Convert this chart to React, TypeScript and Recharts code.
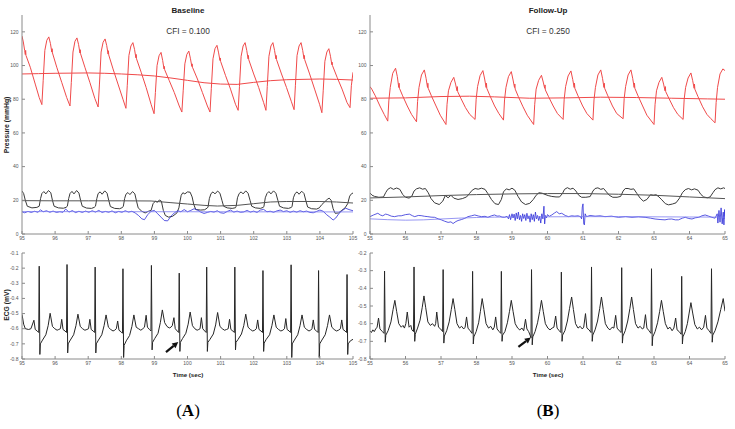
import React from "react";
import { LineChart, Line, XAxis, YAxis, ReferenceLine } from "recharts";

// ---- data: [time (s), value] pairs ----

// Baseline, arterial pressure (mmHg)
const baseArterial: [number, number][] = [
  [95.0, 117.5], [95.04, 114], [95.08, 109], [95.1, 106.5], [95.11, 109], [95.12, 106], [95.25, 99], [95.4, 89], [95.52, 81], [95.6, 76.8],
  [95.64, 91], [95.69, 109], [95.75, 115], [95.81, 117], [95.86, 113], [95.9, 108], [95.91, 110], [95.92, 107.5], [96.05, 99], [96.2, 90], [96.35, 81], [96.45, 76],
  [96.49, 90], [96.54, 108], [96.6, 114.4], [96.66, 116.4], [96.71, 112.4], [96.75, 107.4], [96.76, 109.4], [96.77, 107], [96.9, 99], [97.05, 90], [97.2, 80.5], [97.3, 75.4],
  [97.34, 89], [97.39, 108], [97.45, 113.8], [97.51, 115.8], [97.56, 111.8], [97.6, 106.8], [97.61, 108.8], [97.62, 106.3], [97.75, 98], [97.9, 89], [98.05, 80], [98.14, 74.6],
  [98.18, 88], [98.23, 106], [98.29, 111.6], [98.35, 113.6], [98.4, 109.6], [98.44, 104.6], [98.45, 106.6], [98.46, 104], [98.6, 96], [98.75, 87], [98.9, 77], [98.99, 71.4],
  [99.03, 84], [99.08, 100], [99.14, 105.8], [99.2, 107.8], [99.25, 103], [99.29, 98], [99.3, 99.5], [99.31, 97.5], [99.45, 91], [99.6, 84], [99.75, 76], [99.83, 72.4],
  [99.87, 85], [99.92, 101], [99.98, 106.6], [100.04, 108.6], [100.09, 104], [100.13, 99.5], [100.14, 101], [100.15, 99], [100.3, 92], [100.45, 84], [100.6, 76], [100.68, 72.4],
  [100.72, 86.5], [100.77, 104], [100.83, 110], [100.89, 112], [100.94, 107.5], [100.98, 103], [100.99, 104.5], [101.0, 102.5], [101.15, 94], [101.3, 86], [101.45, 77], [101.53, 73.4],
  [101.57, 87.5], [101.62, 105.5], [101.68, 111.6], [101.74, 113.6], [101.79, 109], [101.83, 104], [101.84, 106], [101.85, 103.5], [102.0, 95], [102.15, 87], [102.3, 78], [102.37, 73.4],
  [102.41, 87.5], [102.46, 105.5], [102.52, 111.6], [102.58, 113.6], [102.63, 109], [102.67, 104], [102.68, 106], [102.69, 103.5], [102.84, 95], [102.99, 87], [103.14, 78.5], [103.22, 73.8],
  [103.26, 88], [103.31, 106], [103.37, 111.6], [103.43, 113.6], [103.48, 109], [103.52, 104], [103.53, 106], [103.54, 103.5], [103.69, 95], [103.84, 86], [103.99, 77], [104.06, 72],
  [104.1, 85], [104.15, 102.5], [104.21, 108], [104.27, 110], [104.32, 105.5], [104.36, 100.5], [104.37, 102], [104.38, 100], [104.52, 93], [104.67, 86], [104.82, 78], [104.91, 75],
  [104.95, 88], [105.0, 96],
];
const baseArterialMean: [number, number][] = [
  [95, 95], [95.5, 95.2], [96, 95.4], [96.5, 95.5], [97, 95.6], [97.5, 95.4], [98, 95], [98.5, 94.5], [99, 93.8], [99.5, 92.6],
  [100, 91.2], [100.5, 89.8], [101, 89], [101.5, 88.8], [102, 90], [102.5, 91], [103, 91.6], [104, 92], [104.5, 91.8], [105, 91.4],
];
const baseVenous: [number, number][] = [
  [95.0, 25.5], [95.05, 24], [95.1, 20], [95.16, 16.5], [95.3, 15.5], [95.45, 15.8],
  [95.52, 16.5], [95.56, 21], [95.6, 24], [95.66, 25.2], [95.72, 23.8], [95.8, 25.8], [95.87, 24.5], [95.92, 20], [95.97, 16.5], [96.1, 15.5], [96.25, 15.3], [96.33, 15.8],
  [96.37, 16.5], [96.41, 21], [96.45, 24], [96.51, 25.3], [96.57, 23.8], [96.65, 25.8], [96.72, 24.3], [96.77, 20], [96.82, 16.5], [96.95, 15.4], [97.1, 15.2], [97.18, 15.8],
  [97.22, 16.5], [97.26, 21], [97.3, 24], [97.36, 25], [97.42, 23.6], [97.5, 25.6], [97.57, 24.2], [97.62, 20], [97.67, 16.3], [97.8, 15.2], [97.95, 15], [98.02, 15.6],
  [98.06, 16.3], [98.1, 21], [98.14, 23.6], [98.2, 24.6], [98.26, 23.4], [98.34, 25.2], [98.41, 23.8], [98.46, 19.5], [98.51, 15.5], [98.62, 13.5], [98.72, 12.5], [98.82, 13.5],
  [98.9, 14], [98.96, 18], [99.03, 19.5], [99.09, 18.8], [99.15, 20.2], [99.21, 19.5], [99.27, 14], [99.33, 11], [99.43, 10], [99.55, 10.5], [99.68, 12.5], [99.74, 15.5],
  [99.77, 19], [99.81, 23], [99.86, 24.5], [99.92, 23.8], [100.0, 25], [100.08, 24.8], [100.14, 22], [100.19, 17.5], [100.25, 14.5], [100.4, 14.2], [100.52, 14.4], [100.6, 15.5],
  [100.62, 16], [100.66, 21], [100.71, 24], [100.77, 25], [100.83, 23.8], [100.91, 25.5], [100.98, 24.2], [101.04, 20], [101.09, 16.5], [101.2, 15.5], [101.35, 15.2], [101.45, 15.6],
  [101.47, 16.5], [101.51, 21.5], [101.56, 24], [101.62, 25], [101.68, 23.8], [101.76, 25.6], [101.83, 24.2], [101.89, 20], [101.94, 16.5], [102.05, 15.5], [102.2, 15.2], [102.29, 15.8],
  [102.31, 16.5], [102.35, 21.5], [102.4, 24], [102.46, 25.2], [102.52, 23.8], [102.6, 25.6], [102.67, 24.2], [102.73, 20], [102.78, 16.5], [102.9, 15.5], [103.05, 15.2], [103.14, 15.8],
  [103.16, 16.5], [103.2, 21.5], [103.25, 24], [103.31, 25], [103.37, 23.6], [103.45, 25.4], [103.52, 24], [103.58, 19.5], [103.63, 16], [103.75, 15], [103.9, 14.8], [103.98, 15.5],
  [104.0, 16], [104.06, 17.5], [104.14, 19], [104.22, 20.5], [104.28, 21.3], [104.34, 20], [104.4, 15], [104.46, 12.3], [104.56, 12.5], [104.66, 14], [104.76, 15.5],
  [104.84, 18], [104.9, 22.5], [104.96, 24], [105.0, 24.3],
];
const baseVenousMean: [number, number][] = [
  [95, 19.8], [96, 19.7], [97, 19.7], [98, 19.7], [98.9, 19.6], [99.5, 18.6], [100, 17.8], [100.5, 17.0], [100.9, 16.6],
  [101.5, 17.0], [102, 18.0], [102.5, 19.0], [103, 19.3], [104, 19.3], [104.5, 19.0], [105, 18.4],
];
const baseBlue: [number, number][] = [
  [95.0, 13.2], [95.08, 12.6], [95.18, 13.4], [95.28, 12.8], [95.38, 13.5], [95.48, 12.9], [95.56, 14.3], [95.64, 13.2], [95.74, 13.8], [95.84, 12.9],
  [95.94, 13.6], [96.04, 12.8], [96.14, 13.2], [96.24, 12.9], [96.32, 14.8], [96.42, 13.0], [96.52, 13.9], [96.62, 12.7], [96.72, 13.5], [96.82, 12.8],
  [96.92, 13.6], [97.02, 12.9], [97.12, 13.8], [97.22, 13.0], [97.32, 14.0], [97.42, 12.8], [97.52, 13.4], [97.62, 12.9], [97.72, 13.7], [97.82, 12.6],
  [97.92, 13.4], [98.02, 12.9], [98.12, 13.8], [98.22, 13.0], [98.32, 13.5], [98.42, 12.5], [98.52, 11.0], [98.62, 9.0], [98.7, 8.5], [98.8, 11.5],
  [98.9, 13.5], [99.0, 14.0], [99.1, 12.0], [99.2, 10.0], [99.3, 8.0], [99.4, 7.8], [99.5, 10.5], [99.6, 12.5], [99.7, 13.8], [99.8, 13.2],
  [99.9, 14.5], [100.0, 13.2], [100.1, 14.0], [100.2, 15.0], [100.3, 14.2], [100.4, 13.0], [100.5, 12.2], [100.6, 12.8], [100.7, 13.4], [100.8, 13.0],
  [100.9, 13.8], [101.0, 12.6], [101.1, 12.3], [101.2, 13.4], [101.3, 14.2], [101.4, 13.0], [101.5, 13.6], [101.6, 12.9], [101.7, 13.1], [101.8, 14.0],
  [101.9, 13.0], [102.0, 13.6], [102.1, 12.8], [102.2, 14.2], [102.3, 14.6], [102.4, 13.2], [102.5, 13.5], [102.6, 12.9], [102.7, 13.7], [102.8, 14.2],
  [102.9, 13.3], [103.0, 13.8], [103.1, 12.9], [103.2, 13.6], [103.3, 13.0], [103.4, 13.8], [103.5, 13.2], [103.6, 13.6], [103.7, 12.8], [103.8, 12.6],
  [103.9, 13.4], [104.0, 14.2], [104.1, 13.5], [104.2, 11.5], [104.3, 10.0], [104.4, 8.3], [104.48, 9.5], [104.58, 12.3], [104.68, 14.0], [104.78, 15.3],
  [104.88, 14.5], [105.0, 13.8],
];
const baseBlueMean: [number, number][] = [[95, 13.3], [100, 13.2], [105, 13.1]];

// Baseline ECG (mV)
const baseEcg: [number, number][] = [
  [95.0, -0.505], [95.05, -0.57], [95.1, -0.6], [95.2, -0.605], [95.27, -0.6],
  [95.36, -0.544], [95.4, -0.605], [95.46, -0.615], [95.505, -0.625], [95.52, -0.187], [95.54, -0.77], [95.555, -0.7], [95.62, -0.675], [95.72, -0.64], [95.79, -0.58], [95.85, -0.498], [95.92, -0.585], [95.99, -0.6], [96.06, -0.61], [96.11, -0.605], [96.16, -0.6],
  [96.2, -0.538], [96.24, -0.605], [96.3, -0.615], [96.345, -0.625], [96.36, -0.176], [96.38, -0.76], [96.395, -0.7], [96.46, -0.675], [96.56, -0.64], [96.63, -0.58], [96.69, -0.504], [96.76, -0.585], [96.83, -0.6], [96.9, -0.61], [96.96, -0.605], [97.01, -0.6],
  [97.05, -0.538], [97.09, -0.605], [97.15, -0.615], [97.195, -0.625], [97.21, -0.193], [97.23, -0.76], [97.245, -0.7], [97.31, -0.675], [97.41, -0.64], [97.48, -0.58], [97.54, -0.509], [97.61, -0.59], [97.68, -0.605], [97.75, -0.615], [97.8, -0.61], [97.85, -0.6],
  [97.89, -0.549], [97.93, -0.61], [97.99, -0.62], [98.035, -0.63], [98.05, -0.204], [98.07, -0.79], [98.085, -0.71], [98.15, -0.68], [98.25, -0.645], [98.32, -0.585], [98.38, -0.509], [98.45, -0.59], [98.52, -0.6], [98.59, -0.61], [98.65, -0.6], [98.7, -0.59],
  [98.75, -0.511], [98.79, -0.59], [98.85, -0.605], [98.895, -0.615], [98.91, -0.182], [98.93, -0.74], [98.945, -0.69], [99.01, -0.665], [99.11, -0.63], [99.18, -0.56], [99.24, -0.476], [99.31, -0.56], [99.38, -0.585], [99.45, -0.595], [99.5, -0.59], [99.54, -0.58],
  [99.59, -0.527], [99.63, -0.6], [99.69, -0.615], [99.735, -0.625], [99.75, -0.233], [99.77, -0.75], [99.785, -0.69], [99.85, -0.665], [99.95, -0.63], [100.02, -0.57], [100.08, -0.49], [100.15, -0.58], [100.22, -0.6], [100.29, -0.61], [100.34, -0.605], [100.38, -0.6],
  [100.42, -0.527], [100.46, -0.6], [100.52, -0.615], [100.565, -0.625], [100.58, -0.193], [100.6, -0.75], [100.615, -0.69], [100.68, -0.67], [100.78, -0.635], [100.85, -0.575], [100.91, -0.493], [100.98, -0.585], [101.05, -0.6], [101.12, -0.61], [101.18, -0.605], [101.23, -0.6],
  [101.27, -0.538], [101.31, -0.605], [101.37, -0.615], [101.415, -0.625], [101.43, -0.193], [101.45, -0.74], [101.465, -0.69], [101.53, -0.67], [101.63, -0.635], [101.7, -0.58], [101.76, -0.504], [101.83, -0.59], [101.9, -0.605], [101.97, -0.615], [102.03, -0.61], [102.08, -0.6],
  [102.12, -0.542], [102.16, -0.605], [102.22, -0.615], [102.265, -0.625], [102.28, -0.216], [102.3, -0.75], [102.315, -0.695], [102.38, -0.67], [102.48, -0.64], [102.55, -0.58], [102.61, -0.509], [102.68, -0.59], [102.75, -0.605], [102.82, -0.615], [102.88, -0.61], [102.93, -0.6],
  [102.97, -0.533], [103.01, -0.605], [103.07, -0.615], [103.115, -0.625], [103.13, -0.178], [103.15, -0.79], [103.165, -0.7], [103.23, -0.675], [103.33, -0.64], [103.4, -0.58], [103.46, -0.509], [103.53, -0.59], [103.6, -0.605], [103.67, -0.615], [103.72, -0.61], [103.76, -0.6],
  [103.8, -0.542], [103.84, -0.605], [103.9, -0.615], [103.945, -0.625], [103.96, -0.216], [103.98, -0.79], [103.995, -0.7], [104.06, -0.675], [104.16, -0.64], [104.23, -0.58], [104.29, -0.509], [104.36, -0.59], [104.43, -0.605], [104.5, -0.615], [104.56, -0.61], [104.62, -0.6],
  [104.66, -0.542], [104.7, -0.605], [104.76, -0.615], [104.805, -0.625], [104.82, -0.242], [104.84, -0.77], [104.855, -0.7], [104.92, -0.68], [105.0, -0.67],
];

// Follow-up, arterial pressure (mmHg)
const fuArterial: [number, number][] = [
  [55.0, 87.5], [55.05, 86], [55.15, 82], [55.28, 76], [55.4, 71], [55.5, 67],
  [55.53, 79], [55.57, 87], [55.64, 95.4], [55.72, 98.4], [55.77, 93.4], [55.81, 87], [55.82, 89.5], [55.83, 86.5], [55.92, 82], [56.05, 76], [56.17, 71], [56.31, 66.6],
  [56.34, 78.6], [56.38, 87], [56.45, 94.4], [56.53, 97.4], [56.58, 92.4], [56.62, 87], [56.63, 89.5], [56.64, 86.5], [56.73, 82], [56.86, 76], [56.98, 70.5], [57.14, 65],
  [57.17, 77], [57.21, 85], [57.28, 90], [57.36, 93], [57.41, 89], [57.45, 85], [57.46, 87.5], [57.47, 84.5], [57.56, 80.5], [57.69, 75], [57.81, 71], [57.96, 68],
  [57.99, 80], [58.03, 87.5], [58.1, 94], [58.18, 97], [58.23, 92], [58.27, 87], [58.28, 89.5], [58.29, 86.5], [58.38, 82], [58.51, 76], [58.63, 71.5], [58.76, 67.6],
  [58.79, 79.6], [58.83, 87], [58.9, 93.4], [58.98, 96.4], [59.03, 91.4], [59.07, 87], [59.08, 89], [59.09, 86], [59.18, 81.5], [59.31, 75.5], [59.43, 70.5], [59.61, 65],
  [59.64, 77], [59.68, 86], [59.75, 91.2], [59.83, 94.2], [59.88, 90.2], [59.92, 86.5], [59.93, 88.5], [59.94, 85.5], [60.03, 81.5], [60.16, 76], [60.28, 71.5], [60.44, 68],
  [60.47, 80], [60.51, 87.5], [60.58, 93.8], [60.66, 96.8], [60.71, 91.8], [60.75, 87], [60.76, 89.5], [60.77, 86.5], [60.86, 82], [60.99, 76], [61.11, 71.5], [61.28, 67.6],
  [61.31, 79.6], [61.35, 87], [61.42, 94.4], [61.5, 97.4], [61.55, 92.4], [61.59, 87], [61.6, 89.5], [61.61, 86.5], [61.7, 82], [61.83, 76], [61.95, 71.5], [62.13, 68.4],
  [62.16, 80.4], [62.2, 87.5], [62.27, 94.4], [62.35, 97.4], [62.4, 92.4], [62.44, 87], [62.45, 89.5], [62.46, 86.5], [62.55, 82], [62.68, 76], [62.8, 70.5], [63.0, 65],
  [63.03, 77], [63.07, 85], [63.14, 90], [63.22, 93], [63.27, 89], [63.31, 85], [63.32, 87.5], [63.33, 84.5], [63.42, 80.5], [63.55, 75], [63.67, 71], [63.82, 68],
  [63.85, 80], [63.89, 87], [63.96, 92.6], [64.04, 95.6], [64.09, 91], [64.13, 86.5], [64.14, 89], [64.15, 86], [64.24, 81.5], [64.37, 75.5], [64.49, 71], [64.6, 68.5], [64.72, 66],
  [64.75, 78], [64.79, 87], [64.86, 95], [64.94, 98], [65.0, 97],
];
const fuArterialMean: [number, number][] = [
  [55, 80.6], [56, 80.8], [57, 81.6], [57.8, 81.8], [58.5, 81.4], [59.5, 80.6], [60.5, 80.8], [61.5, 81.2], [62.5, 81.0], [63.5, 80.6], [64.5, 80.2], [65, 80.0],
];
const fuVenous: [number, number][] = [
  [55.0, 24.3], [55.06, 23.0], [55.13, 22.3], [55.25, 21.8], [55.38, 22.0], [55.44, 24.5], [55.5, 26.5], [55.58, 27.5], [55.66, 26.5], [55.75, 27.3], [55.84, 26.5], [55.92, 23.5],
  [56.0, 21.8], [56.1, 21.3], [56.18, 22.5], [56.24, 25.5], [56.31, 26.8], [56.4, 27.4], [56.48, 26.6], [56.56, 27.0], [56.64, 24.5], [56.72, 21.0], [56.82, 18.5], [56.95, 17.5],
  [57.05, 19.5], [57.12, 22.8], [57.2, 21.5], [57.28, 23.0], [57.36, 21.3], [57.48, 20.5], [57.6, 21.0], [57.72, 22.0], [57.8, 24.0], [57.88, 26.0], [57.96, 27.0], [58.05, 26.6],
  [58.14, 27.2], [58.24, 26.5], [58.32, 24.0], [58.42, 20.5], [58.52, 18.0], [58.62, 17.5], [58.7, 20.5], [58.76, 25.0], [58.84, 26.8], [58.92, 26.2], [59.0, 27.2], [59.08, 26.0],
  [59.17, 22.3], [59.27, 19.0], [59.38, 17.5], [59.5, 18.2], [59.6, 20.5], [59.68, 23.0], [59.76, 24.5], [59.85, 24.2], [59.93, 23.5], [60.02, 22.8], [60.12, 22.3], [60.24, 22.0],
  [60.34, 22.0], [60.42, 24.0], [60.48, 26.5], [60.56, 27.5], [60.64, 26.6], [60.72, 27.2], [60.8, 25.5], [60.88, 23.0], [60.96, 21.8], [61.08, 21.8], [61.2, 22.2], [61.28, 25.5],
  [61.34, 27.0], [61.42, 27.4], [61.5, 26.5], [61.58, 27.0], [61.66, 25.0], [61.74, 23.0], [61.84, 21.8], [61.96, 21.8], [62.06, 22.3], [62.13, 25.5], [62.19, 27.0], [62.27, 27.0],
  [62.35, 26.5], [62.43, 26.8], [62.52, 24.0], [62.61, 21.3], [62.7, 19.5], [62.8, 20.5], [62.9, 23.3], [62.98, 23.0], [63.06, 23.3], [63.14, 22.0], [63.22, 20.3], [63.32, 18.0],
  [63.41, 17.3], [63.52, 17.8], [63.62, 18.5], [63.72, 21.3], [63.8, 24.5], [63.88, 26.3], [63.97, 27.0], [64.06, 26.2], [64.14, 26.8], [64.24, 26.0], [64.32, 23.5], [64.4, 22.0],
  [64.5, 21.5], [64.58, 22.0], [64.66, 24.5], [64.72, 26.3], [64.8, 27.4], [64.88, 26.8], [64.96, 27.4], [65.0, 27.0],
];
const fuVenousMean: [number, number][] = [
  [55, 21.4], [56, 22.0], [57, 22.8], [58, 23.4], [59, 23.8], [60, 24.0], [61, 24.0], [62, 23.6], [63, 23.0], [64, 22.0], [65, 21.0],
];
const fuBlue: [number, number][] = [
  [55.0, 10.3], [55.1, 11.3], [55.22, 12.3], [55.3, 11.2], [55.36, 10.8], [55.44, 11.8], [55.5, 11.5], [55.6, 10.6], [55.69, 10.3], [55.8, 10.8],
  [55.88, 10.8], [56.0, 11.5], [56.11, 11.8], [56.2, 10.8], [56.26, 10.3], [56.36, 11.0], [56.44, 10.9], [56.54, 10.5], [56.63, 10.3], [56.72, 10.0],
  [56.82, 9.9], [56.92, 9.0], [57.01, 8.4], [57.1, 7.6], [57.2, 6.9], [57.28, 7.2], [57.34, 6.2], [57.42, 7.4], [57.48, 8.0], [57.58, 8.6],
  [57.67, 9.3], [57.76, 10.3], [57.86, 10.8], [57.95, 11.3], [58.05, 10.7], [58.14, 10.3], [58.24, 10.5], [58.32, 9.9], [58.42, 10.8], [58.51, 11.3],
  [58.58, 10.6], [58.65, 10.7], [58.72, 10.0], [58.79, 9.9], [58.86, 10.5], [58.9, 9.0], [58.93, 11.5], [58.96, 8.5], [59.0, 12.0], [59.03, 9.5],
  [59.06, 11.8], [59.09, 8.0], [59.12, 12.5], [59.15, 9.0], [59.18, 13.0], [59.21, 8.5], [59.24, 11.0], [59.27, 7.5], [59.3, 12.0], [59.33, 9.2],
  [59.36, 11.5], [59.39, 8.0], [59.42, 12.3], [59.45, 9.0], [59.48, 10.8], [59.51, 7.0], [59.54, 12.0], [59.57, 8.5], [59.6, 11.5], [59.63, 7.5],
  [59.66, 13.0], [59.69, 9.0], [59.72, 11.0], [59.75, 8.0], [59.78, 10.5], [59.81, 6.5], [59.84, 12.0], [59.87, 9.0], [59.9, 16.5], [59.92, 6.0],
  [59.94, 11.0], [59.97, 9.5], [60.0, 11.5], [60.05, 10.5], [60.12, 11.3], [60.2, 12.5], [60.26, 13.3], [60.33, 12.0], [60.4, 12.3], [60.5, 11.0],
  [60.59, 10.3], [60.68, 10.8], [60.77, 10.6], [60.86, 10.8], [60.93, 10.3], [60.96, 9.0], [60.98, 16.0], [61.0, 17.9], [61.02, 6.0], [61.04, 5.4],
  [61.06, 12.0], [61.1, 10.3], [61.2, 11.0], [61.34, 10.6], [61.48, 10.8], [61.62, 10.3], [61.8, 10.6], [62.0, 9.9], [62.2, 10.3], [62.38, 9.9],
  [62.56, 10.2], [62.75, 9.9], [62.9, 9.4], [63.03, 8.9], [63.17, 8.6], [63.31, 8.4], [63.4, 8.8], [63.5, 8.9], [63.6, 8.4], [63.69, 8.4],
  [63.8, 9.4], [63.88, 9.9], [63.98, 9.2], [64.07, 8.9], [64.16, 9.6], [64.26, 9.9], [64.35, 10.8], [64.44, 11.3], [64.54, 10.6], [64.63, 9.9],
  [64.72, 9.4], [64.78, 12.0], [64.8, 6.5], [64.83, 14.0], [64.86, 7.0], [64.89, 15.5], [64.92, 6.0], [64.95, 13.0], [64.97, 5.4], [64.99, 14.5], [65.0, 9.0],
];
const fuBlueMean: [number, number][] = [
  [55, 9.0], [55.5, 8.5], [56, 8.2], [56.5, 8.4], [57, 8.9], [57.5, 9.4], [58, 9.8], [58.5, 10.0], [59, 10.1], [60, 10.2], [61, 10.3], [62, 10.3], [63, 10.2], [64, 10.1], [65, 10.0],
];

// Follow-up ECG (mV)
const fuEcg: [number, number][] = [
  [55.0, -0.64], [55.04, -0.65], [55.08, -0.635], [55.12, -0.645], [55.16, -0.63], [55.2, -0.62],
  [55.24, -0.568], [55.28, -0.63], [55.35, -0.645], [55.395, -0.655], [55.41, -0.302], [55.43, -0.705], [55.445, -0.665], [55.51, -0.64], [55.59, -0.59], [55.65, -0.52], [55.7, -0.468], [55.75, -0.53], [55.81, -0.6], [55.88, -0.62], [55.93, -0.61], [55.97, -0.625], [56.01, -0.6],
  [56.05, -0.534], [56.1, -0.62], [56.15, -0.61], [56.18, -0.635], [56.225, -0.645], [56.24, -0.279], [56.26, -0.7], [56.275, -0.66], [56.34, -0.625], [56.41, -0.58], [56.47, -0.51], [56.52, -0.443], [56.57, -0.51], [56.63, -0.59], [56.7, -0.61], [56.76, -0.6], [56.82, -0.615], [56.85, -0.6],
  [56.88, -0.534], [56.93, -0.62], [56.99, -0.63], [57.045, -0.645], [57.06, -0.294], [57.08, -0.71], [57.095, -0.67], [57.16, -0.64], [57.23, -0.59], [57.29, -0.52], [57.34, -0.458], [57.39, -0.52], [57.45, -0.6], [57.52, -0.625], [57.58, -0.615], [57.64, -0.63], [57.68, -0.62],
  [57.72, -0.562], [57.76, -0.625], [57.82, -0.64], [57.875, -0.655], [57.89, -0.304], [57.91, -0.715], [57.925, -0.675], [57.99, -0.645], [58.06, -0.595], [58.11, -0.53], [58.16, -0.458], [58.21, -0.52], [58.27, -0.6], [58.34, -0.625], [58.4, -0.615], [58.46, -0.635], [58.5, -0.62],
  [58.54, -0.562], [58.58, -0.63], [58.64, -0.645], [58.685, -0.655], [58.7, -0.304], [58.72, -0.7], [58.735, -0.665], [58.8, -0.645], [58.87, -0.595], [58.93, -0.53], [58.98, -0.468], [59.03, -0.53], [59.09, -0.6], [59.16, -0.625], [59.22, -0.635], [59.28, -0.625], [59.33, -0.64],
  [59.38, -0.575], [59.42, -0.63], [59.47, -0.645], [59.51, -0.665], [59.535, -0.68], [59.55, -0.294], [59.57, -0.72], [59.585, -0.675], [59.65, -0.645], [59.72, -0.595], [59.78, -0.53], [59.83, -0.468], [59.88, -0.53], [59.94, -0.6], [60.01, -0.625], [60.07, -0.635], [60.13, -0.625], [60.18, -0.62],
  [60.23, -0.557], [60.27, -0.625], [60.33, -0.64], [60.375, -0.65], [60.39, -0.308], [60.41, -0.7], [60.425, -0.665], [60.49, -0.64], [60.56, -0.585], [60.62, -0.515], [60.68, -0.449], [60.73, -0.52], [60.79, -0.6], [60.86, -0.625], [60.92, -0.615], [60.98, -0.63], [61.02, -0.62],
  [61.07, -0.543], [61.11, -0.625], [61.17, -0.635], [61.225, -0.65], [61.24, -0.279], [61.26, -0.7], [61.275, -0.665], [61.34, -0.635], [61.41, -0.585], [61.47, -0.515], [61.52, -0.449], [61.57, -0.52], [61.63, -0.6], [61.7, -0.625], [61.76, -0.635], [61.82, -0.62], [61.87, -0.625],
  [61.92, -0.553], [61.96, -0.625], [62.02, -0.64], [62.075, -0.65], [62.09, -0.283], [62.11, -0.71], [62.125, -0.67], [62.19, -0.64], [62.26, -0.585], [62.32, -0.515], [62.37, -0.449], [62.42, -0.52], [62.48, -0.6], [62.55, -0.625], [62.61, -0.615], [62.67, -0.63], [62.71, -0.625],
  [62.76, -0.549], [62.8, -0.625], [62.86, -0.64], [62.915, -0.655], [62.93, -0.289], [62.95, -0.725], [62.965, -0.675], [63.03, -0.645], [63.1, -0.595], [63.16, -0.53], [63.21, -0.468], [63.26, -0.53], [63.32, -0.6], [63.39, -0.63], [63.45, -0.62], [63.51, -0.64], [63.56, -0.625],
  [63.61, -0.568], [63.65, -0.635], [63.71, -0.645], [63.765, -0.66], [63.78, -0.332], [63.8, -0.715], [63.815, -0.675], [63.88, -0.645], [63.94, -0.6], [63.99, -0.54], [64.04, -0.481], [64.09, -0.54], [64.15, -0.605], [64.22, -0.63], [64.28, -0.62], [64.34, -0.635], [64.4, -0.62],
  [64.45, -0.553], [64.49, -0.625], [64.55, -0.64], [64.605, -0.655], [64.62, -0.289], [64.64, -0.705], [64.655, -0.665], [64.72, -0.64], [64.8, -0.59], [64.88, -0.52], [64.95, -0.458], [65.0, -0.53],
];

// axis ticks
const baseTimeTicks = [95, 96, 97, 98, 99, 100, 101, 102, 103, 104, 105];
const fuTimeTicks = [55, 56, 57, 58, 59, 60, 61, 62, 63, 64, 65];
const pressureTicks = [0, 20, 40, 60, 80, 100, 120];
const baseEcgTicks = [-0.8, -0.7, -0.6, -0.5, -0.4, -0.3, -0.2, -0.1];
const fuEcgTicks = [-0.8, -0.7, -0.6, -0.5, -0.4, -0.3, -0.2];

const pts = (a: [number, number][]) => a.map(([t, v]) => ({ t, v }));

const FONT = "'Liberation Sans', Arial, sans-serif";
const FRAME = "#8a8a8a";
const TICK = { fontSize: 5, fill: "#555", fontFamily: FONT };

// draws a thick black arrow between the two segment points
const Arrow = (p: any) => {
  const { x1, y1, x2, y2 } = p;
  const a = Math.atan2(y2 - y1, x2 - x1);
  const len = 6, half = 3;
  const bx = x2 - len * Math.cos(a), by = y2 - len * Math.sin(a);
  const nx = -Math.sin(a) * half, ny = Math.cos(a) * half;
  return (
    <g>
      <line x1={x1} y1={y1} x2={bx} y2={by} stroke="#111" strokeWidth={2.2} />
      <polygon points={`${x2},${y2} ${bx + nx},${by + ny} ${bx - nx},${by - ny}`} fill="#111" />
    </g>
  );
};

type PanelProps = {
  left: number; // frame left edge
  top: number; // frame top edge
  w: number;
  h: number;
  xDomain: [number, number];
  xTicks: number[];
  yDomain: [number, number];
  yTicks: number[];
  children: React.ReactNode;
};

const YW = 22; // room for the left tick labels
const XH = 12; // room for the bottom tick labels
const RM = 8; // room for the last x tick label
const TM = 5; // room for the top y tick label

function Panel({ left, top, w, h, xDomain, xTicks, yDomain, yTicks, children }: PanelProps) {
  return (
    <div style={{ position: "absolute", left: left - YW, top: top - TM }}>
      <LineChart width={w + YW + RM} height={h + XH + TM} margin={{ top: TM, right: RM, bottom: 0, left: 0 }}>
        <XAxis
          dataKey="t"
          type="number"
          domain={xDomain}
          ticks={xTicks}
          allowDataOverflow
          height={XH}
          stroke={FRAME}
          tickSize={-3}
          tickMargin={5}
          tick={TICK}
          interval={0}
        />
        <XAxis
          xAxisId="top"
          orientation="top"
          type="number"
          domain={xDomain}
          ticks={xTicks}
          allowDataOverflow
          height={0}
          stroke={FRAME}
          tickSize={-3}
          tick={false}
          interval={0}
        />
        <YAxis
          type="number"
          domain={yDomain}
          ticks={yTicks}
          allowDataOverflow
          width={YW}
          stroke={FRAME}
          tickSize={-3}
          tickMargin={6.5}
          tick={TICK}
          interval={0}
        />
        <YAxis
          yAxisId="right"
          orientation="right"
          type="number"
          domain={yDomain}
          ticks={yTicks}
          allowDataOverflow
          width={0}
          stroke={FRAME}
          tickSize={-3}
          tick={false}
          interval={0}
        />
        {children}
      </LineChart>
    </div>
  );
}

const line = (data: [number, number][], color: string, width = 1, key?: string) => (
  <Line
    key={key}
    data={pts(data)}
    dataKey="v"
    type="linear"
    stroke={color}
    strokeWidth={width}
    dot={false}
    activeDot={false}
    isAnimationActive={false}
  />
);

const RED = "#f04a4a";
const BLK = "#3a3a3a";
const BLUE = "#2f2fd8";
const BLUE_MEAN = "#7c7cf0";
const ECG = "#262626";

export default function App() {
  const text = (x: number, y: number, s: string, size: number, weight: string | number = "normal", extra: any = {}) => (
    <text x={x} y={y} fontSize={size} fontWeight={weight} fontFamily={FONT} textAnchor="middle" dominantBaseline="central" fill="#222" {...extra}>
      {s}
    </text>
  );
  return (
    <div style={{ position: "absolute", left: 0, top: 0, width: 735, height: 429, background: "#fff", overflow: "hidden" }}>
      <Panel left={22} top={15} w={331} h={219} xDomain={[95, 105]} xTicks={baseTimeTicks} yDomain={[0, 130]} yTicks={pressureTicks}>
        {line(baseArterial, RED, 1, "a")}
        {line(baseArterialMean, RED, 1, "am")}
        {line(baseVenous, BLK, 1, "v")}
        {line(baseVenousMean, "#555", 1, "vm")}
        {line(baseBlue, BLUE, 0.8, "b")}
        {line(baseBlueMean, BLUE_MEAN, 0.8, "bm")}
      </Panel>
      <Panel left={370} top={15} w={355} h={219} xDomain={[55, 65]} xTicks={fuTimeTicks} yDomain={[0, 130]} yTicks={pressureTicks}>
        {line(fuArterial, RED, 1, "a")}
        {line(fuArterialMean, RED, 1, "am")}
        {line(fuVenous, BLK, 1, "v")}
        {line(fuVenousMean, "#555", 1, "vm")}
        {line(fuBlue, BLUE, 0.8, "b")}
        {line(fuBlueMean, BLUE_MEAN, 0.8, "bm")}
      </Panel>
      <Panel left={22} top={253} w={331} h={106} xDomain={[95, 105]} xTicks={baseTimeTicks} yDomain={[-0.8, -0.1]} yTicks={baseEcgTicks}>
        {line(baseEcg, ECG, 1, "e")}
        <ReferenceLine segment={[{ x: 99.35, y: -0.755 }, { x: 99.72, y: -0.688 }]} shape={Arrow} />
      </Panel>
      <Panel left={370} top={253} w={355} h={106} xDomain={[55, 65]} xTicks={fuTimeTicks} yDomain={[-0.8, -0.2]} yTicks={fuEcgTicks}>
        {line(fuEcg, ECG, 1, "e")}
        <ReferenceLine segment={[{ x: 59.18, y: -0.732 }, { x: 59.53, y: -0.678 }]} shape={Arrow} />
      </Panel>
      <svg width={735} height={429} style={{ position: "absolute", left: 0, top: 0, pointerEvents: "none" }}>
        {text(188, 10, "Baseline", 8, "bold")}
        {text(548, 10, "Follow-Up", 8, "bold")}
        {text(188, 31, "CFI = 0.100", 8.3, "normal", { fill: "#333" })}
        {text(548, 31, "CFI = 0.250", 8.3, "normal", { fill: "#333" })}
        {text(6, 125, "Pressure (mmHg)", 6.8, "bold", { transform: "rotate(-90 6 125)" })}
        {text(6, 305, "ECG (mV)", 6.8, "bold", { transform: "rotate(-90 6 305)" })}
        {text(188, 374, "Time (sec)", 6.2, "bold")}
        {text(548, 374, "Time (sec)", 6.2, "bold")}
        <text x={188} y={410} fontSize={17} fontFamily="'Liberation Serif', 'Times New Roman', serif" textAnchor="middle" dominantBaseline="central" fill="#000">
          (<tspan fontWeight="bold">A</tspan>)
        </text>
        <text x={548} y={410} fontSize={17} fontFamily="'Liberation Serif', 'Times New Roman', serif" textAnchor="middle" dominantBaseline="central" fill="#000">
          (<tspan fontWeight="bold">B</tspan>)
        </text>
      </svg>
    </div>
  );
}
